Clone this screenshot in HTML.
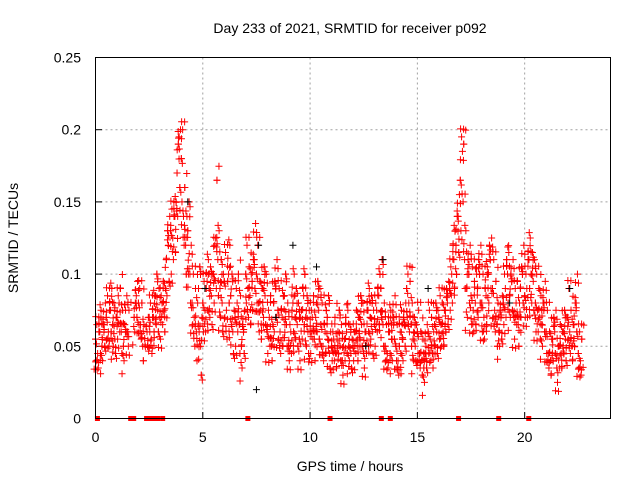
<!DOCTYPE html>
<html><head><meta charset="utf-8"><style>
body{margin:0;background:#fff}
svg{font-family:"Liberation Sans",sans-serif;display:block}
</style></head><body>
<svg id="chart" width="640" height="480" viewBox="0 0 640 480">
<rect width="640" height="480" fill="#fff"/>
<text x="350" y="33" font-size="14" text-anchor="middle">Day 233 of 2021, SRMTID for receiver p092</text>
<text transform="translate(18,238) rotate(-90)" font-size="14" text-anchor="middle">SRMTID / TECUs</text>
<text x="350" y="471" font-size="14" text-anchor="middle">GPS time / hours</text>
<g id="grid"></g>
<g id="ticks"></g>
<g id="marks"></g>
<rect x="95.5" y="57.5" width="515" height="361" fill="none" stroke="#000" stroke-width="1"/>
</svg>
<script>
const xTicks=[0,5,10,15,20];
const yTicks=[0,0.05,0.1,0.15,0.2,0.25];
const yTickLabels=["0","0.05","0.1","0.15","0.2","0.25"];
const seriesA=[.055,.045,.06,.05,.065,.07,.06,.075,.065,.055,
.07,.08,.06,.05,.075,.06,null,null,.07,.085,
.08,.065,.05,null,.06,.07,.055,.07,.085,.075,
.07,.08,.075,.11,.12,.13,.125,.14,.17,.195,
.18,.14,.12,.13,.1,.08,.07,.06,.09,.05,
.08,.075,.095,.09,.085,.1,.125,.11,.09,.08,
.095,.075,.1,.085,.06,.07,.08,.065,.05,.06,
.1,.09,.085,.095,.11,.1,.08,.075,.09,.085,
.06,.07,.05,.08,.09,.075,.06,.07,.085,.065,
.05,.06,.08,.07,.065,.055,.075,.085,.07,.06,
.06,.07,.055,.08,.075,.065,.05,.06,.07,.045,
.05,.055,.045,.06,.05,.04,.055,.06,.05,.045,
.05,.06,.055,.07,.065,.045,.06,.075,.07,.06,
.065,.075,.085,.09,.065,.05,.045,.06,.055,.07,
.05,.04,.06,.055,.065,.09,.08,.065,.055,.05,
.06,.045,.04,.035,.05,.06,.055,.045,.065,.06,
.07,.065,.06,.075,.08,.09,.1,.11,.12,.14,
.165,.185,.11,.09,.1,.085,.075,.08,.09,.1,
.08,.07,.085,.1,.11,.09,.075,.065,.06,.07,
.08,.09,.1,.085,.095,.07,.08,.065,.09,.1,
.085,.09,.11,.1,.095,.08,.075,.07,.065,.08,
.06,.045,.04,.055,.06,.035,.05,.045,.06,.055,
.07,.06,.05,.065,.08,.045,.04];
const seriesB=[.04,.035,.045,.04,.05,.055,.05,.06,.05,.045,
.055,.06,.045,.04,.06,.05,null,null,.06,.07,
.065,.055,.04,null,.05,.06,.045,.06,.065,.06,
.055,.065,.06,.085,.095,.1,.11,.115,.14,.16,
.15,.12,.1,.1,.08,.065,.05,.04,.06,.03,
.06,.06,.075,.07,.065,.08,.09,.085,.07,.06,
.07,.055,.08,.065,.045,.05,.06,.045,.035,.045,
.08,.07,.065,.075,.09,.08,.06,.055,.07,.065,
.045,.05,.04,.06,.07,.055,.045,.05,.065,.05,
.04,.045,.06,.055,.05,.04,.055,.065,.05,.045,
.045,.055,.04,.06,.055,.05,.04,.045,.055,.035,
.04,.04,.035,.045,.04,.03,.04,.045,.04,.035,
.04,.045,.04,.055,.05,.035,.045,.06,.055,.045,
.05,.06,.065,.07,.05,.04,.035,.045,.04,.055,
.04,.03,.045,.04,.05,.07,.06,.05,.04,.04,
.045,.035,.03,.025,.035,.045,.04,.035,.05,.045,
.055,.05,.05,.06,.065,.075,.08,.09,.1,.115,
.13,.15,.09,.07,.08,.065,.06,.065,.07,.08,
.06,.055,.065,.08,.09,.07,.06,.05,.05,.055,
.065,.07,.08,.07,.075,.055,.065,.05,.07,.08,
.07,.07,.09,.08,.075,.06,.06,.055,.05,.06,
.045,.035,.03,.04,.045,.025,.035,.035,.045,.04,
.055,.045,.04,.05,.06,.035,.03];
const seriesC=[.065,.06,.075,.065,.08,.085,.075,.09,.08,.07,
.085,.09,.075,.065,.085,.075,null,null,.08,.095,
.09,.08,.065,null,.07,.08,.07,.085,.1,.09,
.085,.095,.09,.13,.14,.145,.14,.15,.19,.2,
.2,.16,.14,.15,.12,.1,.09,.08,.105,.07,
.095,.09,.11,.105,.1,.12,.165,.13,.11,.1,
.115,.095,.12,.1,.075,.09,.1,.085,.065,.075,
.12,.105,.1,.11,.135,.12,.095,.09,.105,.1,
.075,.085,.065,.095,.11,.09,.075,.085,.1,.08,
.065,.075,.1,.09,.08,.07,.09,.1,.085,.075,
.075,.085,.07,.095,.09,.08,.065,.075,.085,.06,
.06,.07,.055,.075,.065,.05,.07,.075,.065,.055,
.06,.075,.07,.085,.08,.06,.075,.09,.085,.075,
.08,.09,.1,.11,.08,.065,.06,.075,.07,.085,
.065,.05,.075,.07,.08,.1,.095,.08,.07,.065,
.075,.06,.055,.045,.065,.075,.07,.06,.08,.075,
.085,.08,.075,.09,.095,.105,.12,.13,.14,.155,
.195,.19,.13,.11,.12,.105,.095,.1,.11,.12,
.1,.09,.105,.12,.125,.11,.095,.08,.075,.085,
.1,.11,.115,.1,.11,.09,.095,.08,.105,.12,
.1,.11,.125,.115,.11,.1,.09,.085,.08,.095,
.075,.06,.055,.07,.075,.05,.065,.06,.075,.07,
.09,.075,.065,.08,.1,.06,.055];
const blackTimes=[5.1,7.6,9.2,10.3,13.4,15.5,22.1,7.5,4.3,8.4,12.6,19.3];
const blackValues=[.09,.12,.12,.105,.11,.09,.09,.02,.15,.07,.05,.08];
const zeroTimes=[0.09,1.64,1.78,2.38,2.57,2.71,2.9,3.13,7.1,10.93,13.32,13.74,16.92,18.79,20.19];
const step=0.1;
const X=t=>95.5+t*(515/24);
const Y=v=>418.5-v*(361/0.25);
const NS="http://www.w3.org/2000/svg";
function mk(tag,attrs,parent){const e=document.createElementNS(NS,tag);for(const k in attrs)e.setAttribute(k,attrs[k]);parent.appendChild(e);return e;}
const grid=document.getElementById('grid'),ticks=document.getElementById('ticks'),marks=document.getElementById('marks');
xTicks.forEach(t=>{
 if(t>0){const g=mk('line',{x1:X(t),x2:X(t),y1:57.5,y2:418.5,stroke:'#a0a0a0','stroke-dasharray':'2,3'},grid);
 
 }
 const tk=mk('line',{x1:X(t),x2:X(t),y1:418.5,y2:412,stroke:'#000'},ticks);
 
 
 const tx=mk('text',{x:X(t),y:442,'font-size':14,'text-anchor':'middle'},ticks);tx.textContent=String(t);
 
 
});
yTicks.forEach((v,i)=>{
 if(v>0&&v<0.25){const g=mk('line',{x1:95.5,x2:610.5,y1:Y(v),y2:Y(v),stroke:'#a0a0a0','stroke-dasharray':'2,3'},grid);
 
 }
 const tk=mk('line',{x1:95.5,x2:102,y1:Y(v),y2:Y(v),stroke:'#000'},ticks);
 
 
 const tx=mk('text',{x:81,y:Y(v)+5,'font-size':14,'text-anchor':'end'},ticks);tx.textContent=yTickLabels[i];
 
 
});
function plus(x,y,color){
 const p=mk('path',{d:`M${x-3.5},${y}h7M${x},${y-3.5}v7`,stroke:color,'stroke-width':1,fill:'none'},marks);
 
 
}
const clusterStyle=[[0,0],[1,9],[-1,-8],[2,-14],[-2,13]];
[[seriesA,0],[seriesB,0.03],[seriesC,0.06]].forEach(([s,off],si)=>{
 s.forEach((v,i)=>{if(v==null)return;const x=X(i*step+off),y=Y(v);
  const k=(i+si)%clusterStyle.length;
  plus(x,y,'#f00');
  plus(x+clusterStyle[k][0],y+clusterStyle[k][1],'#f00');
  plus(x-clusterStyle[(k+2)%5][0],y-clusterStyle[(k+2)%5][1]*0.6,'#f00');});
});
blackTimes.forEach((t,i)=>plus(X(t),Y(blackValues[i]),'#000'));
zeroTimes.forEach(t=>{
 const r=mk('rect',{x:X(t)-2.5,y:Y(0)-2.5,width:5,height:5,fill:'#f00'},marks);
 
 
});
</script>
</body></html>
